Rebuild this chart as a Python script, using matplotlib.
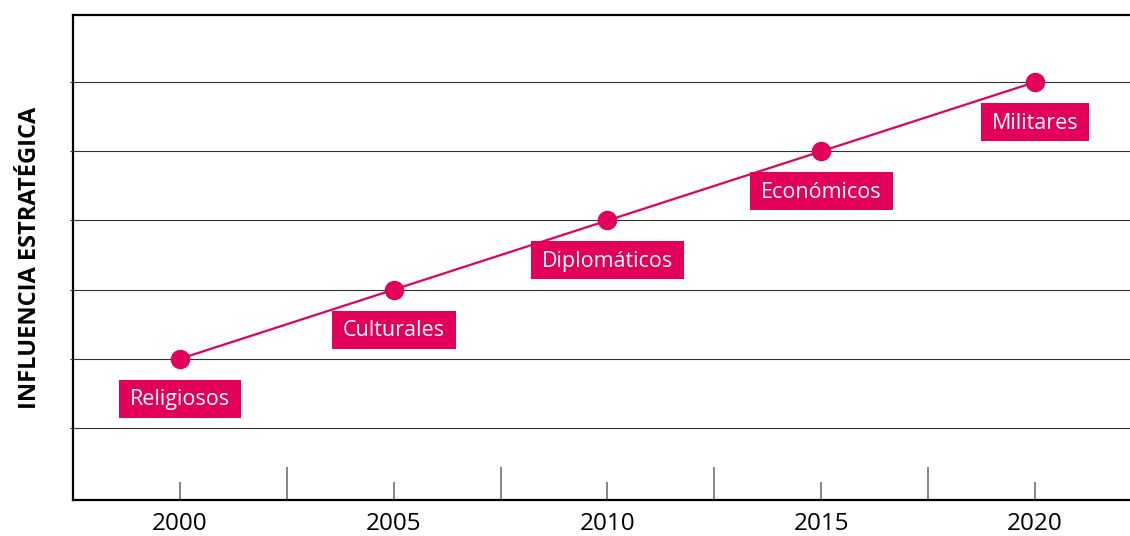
import matplotlib
matplotlib.use("Agg")
import matplotlib.pyplot as plt
from matplotlib.patches import Rectangle
from matplotlib.transforms import IdentityTransform

plt.rcParams['font.family'] = ['Open Sans', 'DejaVu Sans']

years = [2000, 2005, 2010, 2015, 2020]
influence = [1, 2, 3, 4, 5]
labels = ["Religiosos", "Culturales", "Diplomáticos", "Económicos", "Militares"]
minor_years = [2002.5, 2007.5, 2012.5, 2017.5]
grid_levels = [0, 1, 2, 3, 4, 5]

PINK = '#E2005A'

fig = plt.figure(figsize=(11.3, 5.36), dpi=100)
ax = fig.add_axes([73/1130, 1-500/536, 1-73/1130, (500-15)/536])
ax.set_xlim(1997.5, 2022.22)
ax.set_ylim(-1.04, 5.97)

for g in grid_levels:
    ax.axhline(g, color='#333333', lw=0.8, zorder=1)

ax.plot(years, influence, color=PINK, lw=1.6, marker='o', markersize=13, zorder=3, clip_on=False)

ax.spines['right'].set_visible(False)
for s in ['left', 'bottom', 'top']:
    ax.spines[s].set_linewidth(1.6)
    ax.spines[s].set_color('black')

ax.set_xticks(years)
ax.set_xticklabels([str(y) for y in years], fontsize=17.5)
ax.set_xticks(minor_years, minor=True)
ax.tick_params(axis='x', which='major', direction='in', length=13, width=1.1, color='#666666', pad=9)
ax.tick_params(axis='x', which='minor', direction='in', length=24, width=1.1, color='#666666')
ax.set_yticks(grid_levels)
ax.set_yticklabels([])
ax.tick_params(axis='y', length=2, width=0.8, color='#333333')

ax.set_ylabel("INFLUENCIA ESTRATÉGICA", fontsize=17, fontweight='bold', labelpad=17)

texts = []
for x, y, lab in zip(years, influence, labels):
    t = ax.annotate(lab, xy=(x, y), xytext=(0, -29.5), textcoords='offset points',
                    ha='center', va='center', color='white', fontsize=15.5, zorder=6)
    texts.append(t)

fig.canvas.draw()
renderer = fig.canvas.get_renderer()
for t, x, y in zip(texts, years, influence):
    bb = t.get_window_extent(renderer)
    px, py = ax.transData.transform((x, y))
    cy = py - 40
    w = bb.width + 22
    h = 38
    r = Rectangle((px - w/2, cy - h/2), w, h, transform=IdentityTransform(),
                  facecolor=PINK, edgecolor='none', zorder=4, clip_on=False)
    ax.add_patch(r)

fig.savefig("out.png", dpi=100)
